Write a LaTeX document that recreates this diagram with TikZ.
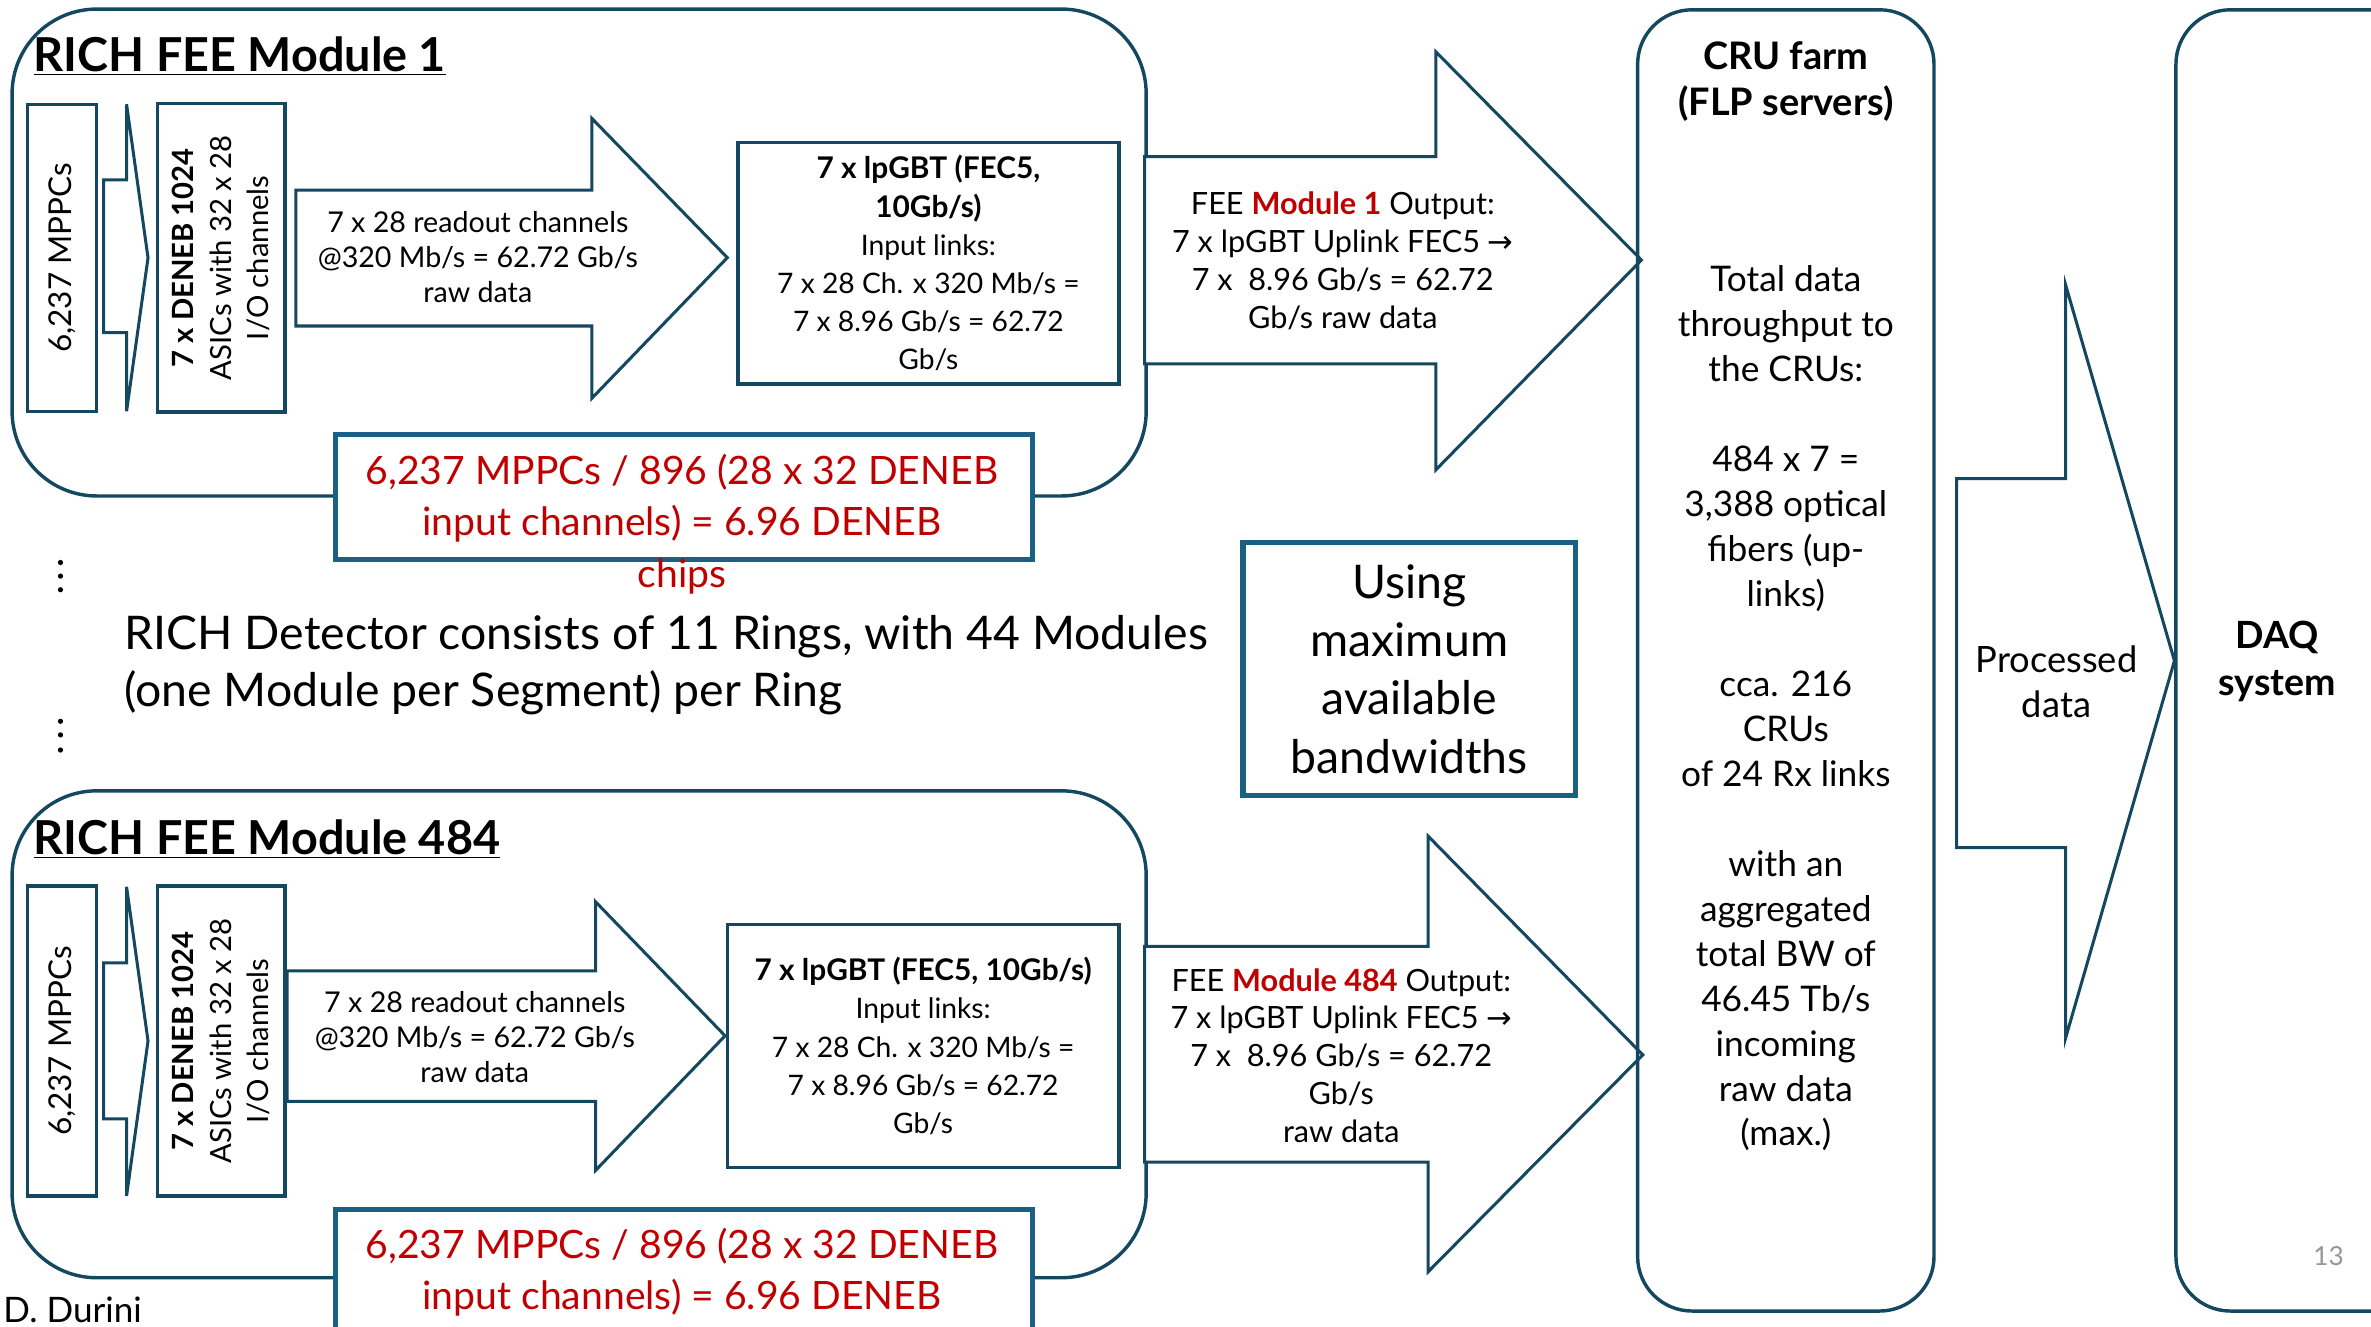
\documentclass[tikz,border=0pt]{standalone}
\usepackage{fontspec}
\setmainfont{Lato}
\newfontfamily\symfont{DejaVu Sans}
\definecolor{frame}{RGB}{20,72,96}
\definecolor{boxedge}{RGB}{26,96,130}
\definecolor{hired}{RGB}{192,0,0}
\definecolor{pagegray}{RGB}{150,150,150}
\tikzset{
  modframe/.style={draw=frame, line width=1.7pt, rounded corners=42pt,
    minimum width=562.5pt, minimum height=241.5pt, inner sep=0pt},
  tallframe/.style={draw=frame, line width=1.7pt, rounded corners=27pt,
    minimum height=645.4pt, inner sep=0pt},
  thinbox/.style={draw=frame, line width=1.6pt, fill=white, inner sep=0pt},
  blockarrow/.style={draw=frame, line width=1.5pt, fill=white, line join=miter},
  redframe/.style={draw=boxedge, line width=2.3pt, fill=white,
    minimum width=345.75pt, minimum height=61.9pt, inner sep=0pt},
  usebox/.style={draw=boxedge, line width=2.6pt, fill=white, inner sep=0pt,
    minimum width=165pt, minimum height=125.25pt, align=center,
    font=\fontsize{23pt}{28.9pt}\selectfont},
  modtitle/.style={anchor=base west, inner sep=0pt,
    font=\fontsize{23.2pt}{27pt}\selectfont\bfseries},
  smalltxt/.style={align=center, inner sep=0pt,
    font=\fontsize{14.2pt}{17.25pt}\selectfont},
  gbttxt/.style={align=center, inner sep=0pt,
    font=\fontsize{14pt}{18.9pt}\selectfont},
  outtxt/.style={align=center, inner sep=0pt,
    font=\fontsize{15.2pt}{18.75pt}\selectfont},
  redtxt/.style={align=center, inner sep=0pt, text=hired,
    font=\fontsize{19.4pt}{25.5pt}\selectfont},
  crutxt/.style={align=center, inner sep=0pt,
    font=\fontsize{17.5pt}{22.3pt}\selectfont},
  vtxt/.style={rotate=90, align=center, inner sep=0pt,
    font=\fontsize{14.5pt}{18.5pt}\selectfont},
  dot/.style={circle, fill=black, inner sep=0pt, minimum size=2.6pt}
}
\begin{document}
\begin{tikzpicture}[x=0.75pt, y=-0.75pt]
\clip (0,0) rectangle (1568,877);
\fill[white] (0,0) rectangle (1568,877);

% ---------------- FEE module 1 ----------------
\node[modframe] (mod1) at (383,167) {};
\node[modtitle] (mod1title) at (22,47) {\underline{RICH FEE Module 1}};

\node[thinbox, minimum width=34.5pt, minimum height=152.25pt] (mppc1) at (41,170.5) {};
\node[vtxt, font=\fontsize{15.6pt}{18.5pt}\selectfont] (mppc1txt) at (mppc1.center) {6,237 MPPCs};
\draw[blockarrow] (68.5,119) -- (83.7,119) -- (83.7,69) -- (97.9,170.5)
  -- (83.7,272) -- (83.7,220) -- (68.5,220) -- cycle;
\node[thinbox, minimum width=63.4pt, minimum height=153pt] (deneb1) at (146.25,170.5) {};
\node[vtxt] (deneb1txt) at (deneb1.center)
  {\textbf{7 x DENEB 1024}\\ASICs with 32 x 28\\I/O channels};

\draw[blockarrow] (195.7,125.7) -- (391.4,125.7) -- (391.4,78.3) -- (481,170.4)
  -- (391.4,263.4) -- (391.4,215.6) -- (195.7,215.6) -- cycle;
\node[smalltxt] (read1) at (316,170)
  {7 x 28 readout channels\\@320 Mb/s = 62.72 Gb/s\\raw data};

\node[thinbox, minimum width=189pt, minimum height=120pt, gbttxt] (gbt1) at (614,174)
  {{\fontsize{14.8pt}{18.9pt}\selectfont\textbf{7 x lpGBT (FEC5,}}\\{\fontsize{14.8pt}{18.9pt}\selectfont\textbf{10Gb/s)}}\\Input links:\\7 x 28 Ch. x 320 Mb/s =\\7 x 8.96 Gb/s = 62.72\\Gb/s};

\draw[blockarrow] (757,103.6) -- (949.5,103.6) -- (949.5,34.2) -- (1085.5,172)
  -- (949.5,310.8) -- (949.5,240.7) -- (757,240.7) -- cycle;
\node[outtxt] (out1) at (888,172.5)
  {FEE \textcolor{hired}{\textbf{Module 1}} Output:\\7 x lpGBT Uplink FEC5 {\symfont →}\\7 x~ 8.96 Gb/s = 62.72\\Gb/s raw data};

\node[redframe] (red1) at (452.5,328.75) {};
\node[redtxt] (red1txt) at (451,346.5)
  {6,237 MPPCs / 896 (28 x 32 DENEB\\input channels) = 6.96 DENEB\\chips};

% ---------------- ring summary ----------------
\node[dot] (da1) at (40,372) {};
\node[dot] (da2) at (40,381) {};
\node[dot] (da3) at (40,390) {};
\node[dot] (db1) at (40,477) {};
\node[dot] (db2) at (40,486) {};
\node[dot] (db3) at (40,496) {};
\node[anchor=west, align=left, inner sep=0pt,
  font=\fontsize{23pt}{28.5pt}\selectfont] (ringtxt) at (82,440)
  {RICH Detector consists of 11 Rings, with 44 Modules\\(one Module per Segment) per Ring};

\node[usebox] (bw) at (932,442.5) {Using\\maximum\\available\\bandwidths};

% ---------------- FEE module 484 ----------------
\node[modframe] (mod2) at (383,684) {};
\node[modtitle] (mod2title) at (22,565) {\underline{RICH FEE Module 484}};

\node[thinbox, minimum width=34.5pt, minimum height=153.75pt] (mppc2) at (41,688.5) {};
\node[vtxt, font=\fontsize{15.6pt}{18.5pt}\selectfont] (mppc2txt) at (mppc2.center) {6,237 MPPCs};
\draw[blockarrow] (68.5,636.7) -- (83.7,636.7) -- (83.7,586.5) -- (97.9,688.4)
  -- (83.7,790.9) -- (83.7,739.9) -- (68.5,739.9) -- cycle;
\node[thinbox, minimum width=63.4pt, minimum height=153.75pt] (deneb2) at (146.25,688.5) {};
\node[vtxt] (deneb2txt) at (deneb2.center)
  {\textbf{7 x DENEB 1024}\\ASICs with 32 x 28\\I/O channels};

\draw[blockarrow] (189.8,642) -- (393.9,642) -- (393.9,596.4) -- (479.5,685)
  -- (393.9,774) -- (393.9,728.4) -- (189.8,728.4) -- cycle;
\node[smalltxt] (read2) at (314,686)
  {7 x 28 readout channels\\@320 Mb/s = 62.72 Gb/s\\raw data};

\node[thinbox, minimum width=194.25pt, minimum height=120.4pt, gbttxt] (gbt2) at (610.5,691.75)
  {{\fontsize{14.8pt}{18.9pt}\selectfont\textbf{7 x lpGBT (FEC5, 10Gb/s)}}\\Input links:\\7 x 28 Ch. x 320 Mb/s =\\7 x 8.96 Gb/s = 62.72\\Gb/s};

\draw[blockarrow] (757,625.8) -- (944.5,625.8) -- (944.5,553) -- (1086.4,697.6)
  -- (944.5,841) -- (944.5,768.6) -- (757,768.6) -- cycle;
\node[outtxt] (out2) at (887,698)
  {FEE \textcolor{hired}{\textbf{Module 484}} Output:\\7 x lpGBT Uplink FEC5 {\symfont →}\\7 x~ 8.96 Gb/s = 62.72\\Gb/s\\raw data};

\node[redframe] (red2) at (452.5,841.25) {};
\node[redtxt] (red2txt) at (451,841.5)
  {6,237 MPPCs / 896 (28 x 32 DENEB\\input channels) = 6.96 DENEB};

\node[anchor=west, inner sep=0pt, font=\fontsize{17.4pt}{20pt}\selectfont] (author) at (2,866) {D. Durini};

% ---------------- CRU farm ----------------
\node[tallframe, minimum width=147pt] (cru) at (1181,436.75) {};
\node[crutxt, font=\fontsize{18.8pt}{22.5pt}\selectfont\bfseries] (crutitle) at (1181,54)
  {CRU farm\\(FLP servers)};
\node[crutxt] (crubody) at (1181,468.5)
  {Total data\\throughput to\\the CRUs:\\[22.3pt]484 x 7 =\\3,388 optical\\fibers (up-\\links)\\[22.3pt]cca. 216\\CRUs\\of 24 Rx links\\[22.3pt]with an\\aggregated\\total BW of\\46.45 Tb/s\\incoming\\raw data\\(max.)};

% ---------------- processed data and DAQ ----------------
\draw[blockarrow] (1294,316.5) -- (1366,316.5) -- (1366,188.3) -- (1438,437)
  -- (1366,686.6) -- (1366,560.5) -- (1294,560.5) -- cycle;
\node[crutxt, font=\fontsize{18pt}{22.5pt}\selectfont] (proc) at (1360,451) {Processed\\data};

\node[tallframe, minimum width=150.75pt] (daq) at (1539.5,436.75) {};
\node[crutxt, font=\fontsize{18.6pt}{23pt}\selectfont\bfseries] (daqtxt) at (1506,437.5) {DAQ\\system};

\node[inner sep=0pt, text=pagegray, font=\fontsize{13pt}{15pt}\selectfont] (pagenum) at (1540,831) {13};
\end{tikzpicture}
\end{document}
